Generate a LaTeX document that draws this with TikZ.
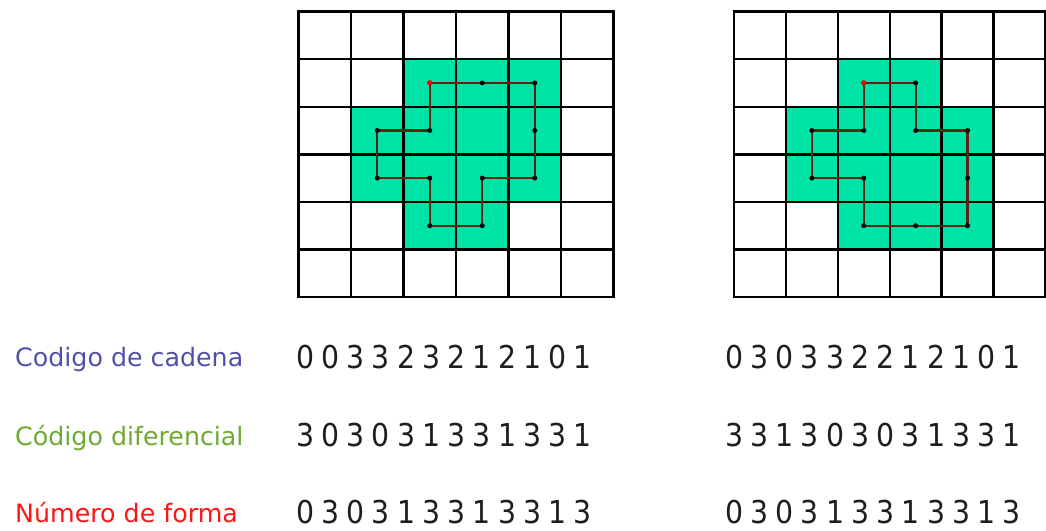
\documentclass[tikz,border=0pt]{standalone}
\usepackage{fontspec}
\setmainfont{DejaVu Sans}
\newfontfamily\digitfont[FakeStretch=0.9,WordSpace=0.8]{DejaVu Sans}
\definecolor{mint}{RGB}{0,227,167}
\definecolor{chainc}{RGB}{95,35,20}
\definecolor{lblblue}{RGB}{80,80,170}
\definecolor{lblgreen}{RGB}{110,170,50}
\definecolor{lblred}{RGB}{255,20,20}
\definecolor{digc}{RGB}{30,30,30}
\begin{document}
\begin{tikzpicture}[x=1pt,y=-1pt,
  gridline/.style={line width=2.4pt,black,line cap=rect},
  chain/.style={line width=2.2pt,draw=chainc,line join=round},
  vdot/.style={fill=black},
  startdot/.style={fill=red},
  lbl/.style={anchor=base west,inner sep=0pt,font=\fontsize{25.3}{30}\selectfont},
  digits/.style={anchor=base west,inner sep=0pt,text=digc,font=\digitfont\fontsize{31.5}{36}\selectfont}]
\useasboundingbox (0,0) rectangle (1046,530);
% ---------- left grid ----------
\def\xa{298.5}\def\wa{52.5}\def\ya{11.5}\def\hh{47.6}
\foreach \c/\r in {2/1,3/1,4/1,1/2,2/2,3/2,4/2,1/3,2/3,3/3,4/3,2/4,3/4}
  \fill[mint] ({\xa+\wa*\c},{\ya+\hh*\r}) rectangle ++(\wa,\hh);
\foreach \i in {0,...,6} {
  \draw[gridline] ({\xa+\wa*\i},\ya) -- ({\xa+\wa*\i},{\ya+6*\hh});
  \draw[gridline] (\xa,{\ya+\hh*\i}) -- ({\xa+6*\wa},{\ya+\hh*\i});
}
\foreach \c/\r in {2/1,3/1,4/1,4/2,4/3,3/3,3/4,2/4,2/3,1/3,1/2,2/2}
  \coordinate (L\c\r) at ({\xa+\wa*(\c+0.5)},{\ya+\hh*(\r+0.5)});
\draw[chain] (L21) -- (L31) -- (L41) -- (L42) -- (L43) -- (L33) -- (L34) -- (L24) -- (L23) -- (L13) -- (L12) -- (L22) -- cycle;
\foreach \p in {L31,L41,L42,L43,L33,L34,L24,L23,L13,L12,L22}
  \fill[vdot] (\p) circle (2.5);
\fill[startdot] (L21) circle (2.7);
% ---------- right grid ----------
\def\xb{734}\def\wb{51.9}
\foreach \c/\r in {2/1,3/1,1/2,2/2,3/2,4/2,1/3,2/3,3/3,4/3,2/4,3/4,4/4}
  \fill[mint] ({\xb+\wb*\c},{\ya+\hh*\r}) rectangle ++(\wb,\hh);
\foreach \i in {0,...,6} {
  \draw[gridline] ({\xb+\wb*\i},\ya) -- ({\xb+\wb*\i},{\ya+6*\hh});
  \draw[gridline] (\xb,{\ya+\hh*\i}) -- ({\xb+6*\wb},{\ya+\hh*\i});
}
\foreach \c/\r in {2/1,3/1,3/2,4/2,4/3,4/4,3/4,2/4,2/3,1/3,1/2,2/2}
  \coordinate (R\c\r) at ({\xb+\wb*(\c+0.5)},{\ya+\hh*(\r+0.5)});
\draw[chain] (R21) -- (R31) -- (R32) -- (R42) -- (R43) -- (R44) -- (R34) -- (R24) -- (R23) -- (R13) -- (R12) -- (R22) -- cycle;
\foreach \p in {R31,R32,R42,R43,R44,R34,R24,R23,R13,R12,R22}
  \fill[vdot] (\p) circle (2.5);
\fill[startdot] (R21) circle (2.7);
% ---------- labels ----------
\node[lbl,text=lblblue]  (lab1) at (15,366) {Codigo de cadena};
\node[lbl,text=lblgreen] (lab2) at (15,445) {Código diferencial};
\node[lbl,text=lblred]   (lab3) at (15,522) {Número de forma};
% ---------- codes ----------
\node[digits] (l1) at (296,368) {0 0 3 3 2 3 2 1 2 1 0 1};
\node[digits] (l2) at (296,446) {3 0 3 0 3 1 3 3 1 3 3 1};
\node[digits] (l3) at (296,523) {0 3 0 3 1 3 3 1 3 3 1 3};
\node[digits] (r1) at (725,368) {0 3 0 3 3 2 2 1 2 1 0 1};
\node[digits] (r2) at (725,446) {3 3 1 3 0 3 0 3 1 3 3 1};
\node[digits] (r3) at (725,523) {0 3 0 3 1 3 3 1 3 3 1 3};
\end{tikzpicture}
\end{document}
